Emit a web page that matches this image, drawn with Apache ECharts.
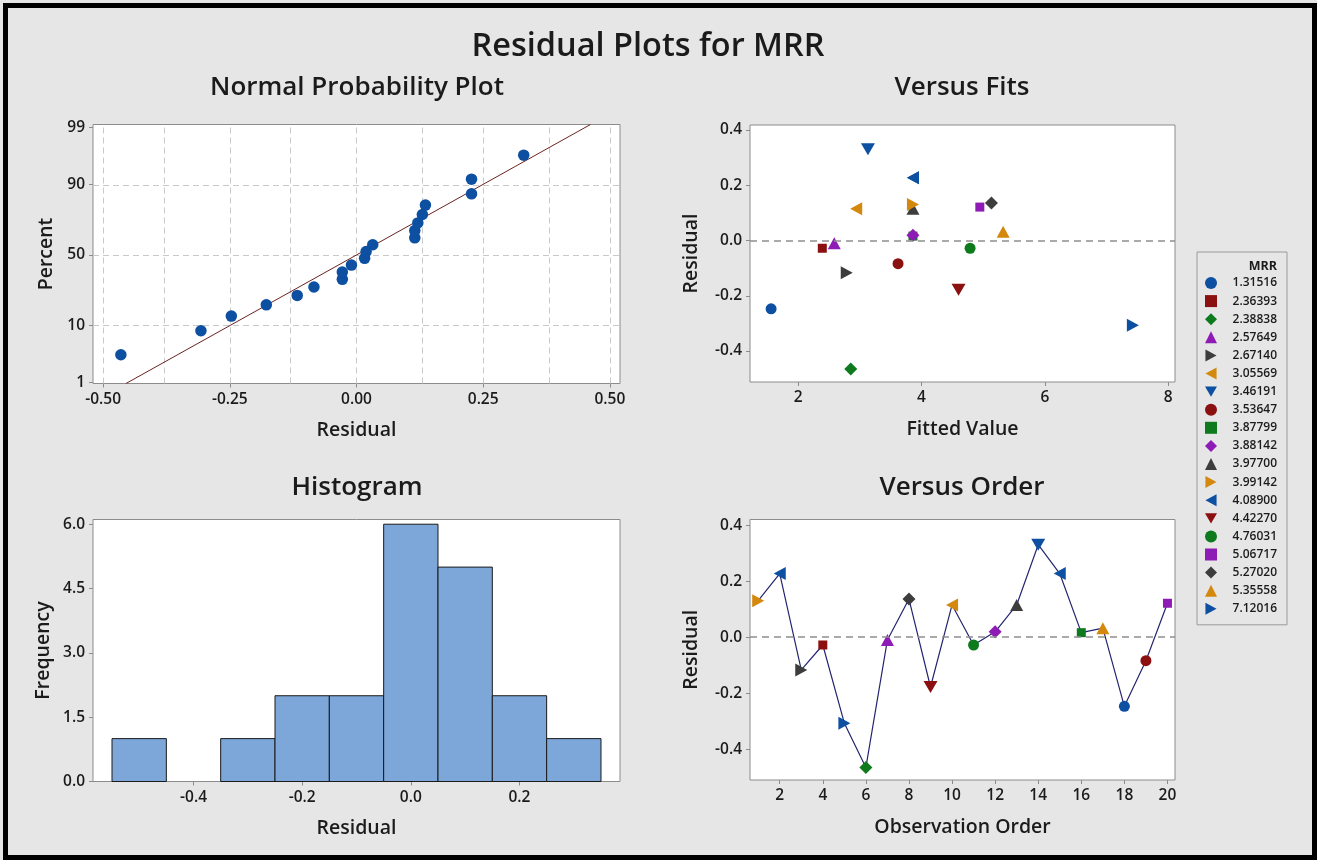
<!DOCTYPE html>
<html>
<head>
<meta charset="utf-8">
<title>Residual Plots for MRR</title>
<script src="https://cdn.jsdelivr.net/npm/echarts@6/dist/echarts.min.js"></script>
<style>
  html, body { margin: 0; padding: 0; background: #e6e6e6; }
  #chart { width: 1317px; height: 860px; }
</style>
</head>
<body>
<div id="chart"></div>
<script>
// ---- data ----
const observation = [1, 2, 3, 4, 5, 6, 7, 8, 9, 10, 11, 12, 13, 14, 15, 16, 17, 18, 19, 20];
const residuals = [0.130, 0.227, -0.117, -0.028, -0.307, -0.465, -0.010, 0.136, -0.178, 0.115,
                   -0.028, 0.019, 0.115, 0.330, 0.227, 0.016, 0.032, -0.247, -0.084, 0.121];
const fittedValues = [3.862, 3.862, 2.788, 2.392, 7.427, 2.853, 2.586, 5.134, 4.601, 2.941,
                      4.788, 3.862, 3.862, 3.132, 3.862, 3.862, 5.324, 1.562, 3.620, 4.946];
const mrrOfObservation = ['3.99142', '4.08900', '2.67140', '2.36393', '7.12016', '2.38838', '2.57649',
                          '5.27020', '4.42270', '3.05569', '4.76031', '3.88142', '3.97700', '3.46191',
                          '4.08900', '3.87799', '5.35558', '1.31516', '3.53647', '5.06717'];
const mrrGroups = ['1.31516', '2.36393', '2.38838', '2.57649', '2.67140', '3.05569', '3.46191',
                   '3.53647', '3.87799', '3.88142', '3.97700', '3.99142', '4.08900', '4.42270',
                   '4.76031', '5.06717', '5.27020', '5.35558', '7.12016'];
// median-rank plotting positions (%) for the ordered residuals
const probPercent = [3.43, 8.33, 13.24, 18.14, 23.04, 27.94, 32.84, 37.75, 42.65, 47.55,
                     52.45, 57.35, 62.25, 67.16, 72.06, 76.96, 81.86, 86.76, 91.67, 96.57];
const fitMean = 0.0;
const fitStDev = 0.194;
const histBinCenters = [-0.5, -0.4, -0.3, -0.2, -0.1, 0.0, 0.1, 0.2, 0.3];
const histCounts = [1, 0, 1, 2, 2, 6, 5, 2, 1];
const histBinWidth = 0.1;

// ---- tick labels ----
const percentTicks = [1, 10, 50, 90, 99];
const percentGridTicks = [10, 50, 90];
const normalXTicks = [-0.5, -0.25, 0, 0.25, 0.5];
const normalXGrid = [-0.5, -0.375, -0.25, -0.125, 0, 0.125, 0.25, 0.375, 0.5];
const residualTicks = [-0.4, -0.2, 0, 0.2, 0.4];
const fitsTicks = [2, 4, 6, 8];
const histXTicks = [-0.4, -0.2, 0, 0.2];
const freqTicks = [0, 1.5, 3, 4.5, 6];
const orderTicks = [2, 4, 6, 8, 10, 12, 14, 16, 18, 20];

// ---- styling ----
const FONT = '"Open Sans", "Noto Sans", sans-serif';
const INK = '#1b1b1b';
const FRAME = '#8c8c8c';
const markerColors = ['#0d4fa0', '#8b1010', '#0e7a1e', '#8e1bb5', '#3d3d3d', '#d4880d'];
const markerShapes = [
  { symbol: 'circle', size: 11 },
  { symbol: 'rect', size: 9 },
  { symbol: 'diamond', size: 13 },
  { symbol: 'triangle', size: [13, 12] },
  { symbol: 'path://M0,0L12,6.5L0,13Z', size: [12, 13] },
  { symbol: 'path://M12,0L0,6.5L12,13Z', size: [12, 13] },
  { symbol: 'path://M0,0L14,0L7,12Z', size: [14, 12] }
];

// inverse standard normal CDF (Acklam), used for the probability axis
function normInv(p) {
  const a = [-3.969683028665376e+01, 2.209460984245205e+02, -2.759285104469687e+02,
             1.383577518672690e+02, -3.066479806614716e+01, 2.506628277459239e+00];
  const b = [-5.447609879822406e+01, 1.615858368580409e+02, -1.556989798598866e+02,
             6.680131188771972e+01, -1.328068155288572e+01];
  const c = [-7.784894002430293e-03, -3.223964580411365e-01, -2.400758277161838e+00,
             -2.549732539343734e+00, 4.374664141464968e+00, 2.938163982698783e+00];
  const d = [7.784695709041462e-03, 3.224671290700398e-01, 2.445134137142996e+00,
             3.754408661907416e+00];
  const pl = 0.02425, ph = 1 - pl;
  let q, r;
  if (p < pl) {
    q = Math.sqrt(-2 * Math.log(p));
    return (((((c[0] * q + c[1]) * q + c[2]) * q + c[3]) * q + c[4]) * q + c[5]) /
           ((((d[0] * q + d[1]) * q + d[2]) * q + d[3]) * q + 1);
  }
  if (p <= ph) {
    q = p - 0.5; r = q * q;
    return (((((a[0] * r + a[1]) * r + a[2]) * r + a[3]) * r + a[4]) * r + a[5]) * q /
           (((((b[0] * r + b[1]) * r + b[2]) * r + b[3]) * r + b[4]) * r + 1);
  }
  q = Math.sqrt(-2 * Math.log(1 - p));
  return -(((((c[0] * q + c[1]) * q + c[2]) * q + c[3]) * q + c[4]) * q + c[5]) /
          ((((d[0] * q + d[1]) * q + d[2]) * q + d[3]) * q + 1);
}

const probZMin = -2.345;
const probZMax = 2.38;
const percentZTicks = percentTicks.map(p => normInv(p / 100));

function valueAxis(o) {
  return {
    type: 'value', gridIndex: o.grid, min: o.min, max: o.max,
    name: o.name, nameLocation: 'middle', nameGap: o.nameGap,
    nameTextStyle: { fontSize: 19.5, fontWeight: 600, color: INK, fontFamily: FONT },
    axisLine: { show: false, onZero: false },
    axisTick: { show: true, customValues: o.ticks, length: 4, lineStyle: { color: FRAME } },
    axisLabel: { customValues: o.ticks, formatter: o.fmt, fontSize: 15.5, fontWeight: 600,
                 color: INK, fontFamily: FONT, margin: o.margin || 8 },
    splitLine: { show: false }
  };
}

const gridBox = { show: true, backgroundColor: '#ffffff', borderColor: FRAME, borderWidth: 1, containLabel: false };

const zeroLine = {
  silent: true, symbol: ['none', 'none'], label: { show: false },
  lineStyle: { color: '#8f8f8f', width: 1.6, type: [7, 5] },
  emphasis: { disabled: true }, animation: false,
  data: [{ yAxis: 0 }]
};

// normal probability plot
const sortedResiduals = residuals.slice().sort((x, y) => x - y);
const probPoints = sortedResiduals.map((r, i) => [r, normInv(probPercent[i] / 100)]);
const fitLine = [[fitMean + fitStDev * probZMin, probZMin], [fitMean + fitStDev * probZMax, probZMax]];

const series = [
  {
    type: 'line', xAxisIndex: 0, yAxisIndex: 0, data: fitLine, showSymbol: false, z: 2,
    lineStyle: { color: '#6b2222', width: 1 }, silent: true,
    markLine: {
      silent: true, z: 1, symbol: ['none', 'none'], label: { show: false },
      lineStyle: { color: '#c9c9c9', width: 1, type: [6, 4] }, emphasis: { disabled: true },
      data: normalXGrid.map(v => ({ xAxis: v }))
        .concat(percentGridTicks.map(p => ({ yAxis: normInv(p / 100) })))
    }
  },
  {
    type: 'scatter', xAxisIndex: 0, yAxisIndex: 0, data: probPoints, z: 3,
    symbol: 'circle', symbolSize: 11.5, itemStyle: { color: markerColors[0], opacity: 1 }
  },
  {
    type: 'custom', xAxisIndex: 2, yAxisIndex: 2,
    data: histBinCenters.map((c, i) => [c, histCounts[i]]),
    encode: { x: 0, y: 1 },
    renderItem: function (params, api) {
      const c = api.value(0), n = api.value(1);
      if (!n) return null;
      const p0 = api.coord([c - histBinWidth / 2, n]);
      const p1 = api.coord([c + histBinWidth / 2, 0]);
      return {
        type: 'rect',
        shape: { x: p0[0], y: p0[1], width: p1[0] - p0[0], height: p1[1] - p0[1] },
        style: { fill: '#7da7d9', stroke: '#1a1a1a', lineWidth: 1 }
      };
    }
  }
];

// versus fits, one series per MRR value
mrrGroups.forEach((g, gi) => {
  const shape = markerShapes[gi % markerShapes.length];
  const pts = [];
  observation.forEach((o, i) => { if (mrrOfObservation[i] === g) pts.push([fittedValues[i], residuals[i]]); });
  const s = {
    type: 'scatter', name: g, xAxisIndex: 1, yAxisIndex: 1, data: pts, z: 3,
    symbol: shape.symbol, symbolSize: shape.size,
    itemStyle: { color: markerColors[gi % markerColors.length], opacity: 1 }
  };
  if (gi === 0) s.markLine = zeroLine;
  series.push(s);
});

// versus order: connecting line then markers
series.push({
  type: 'line', name: 'order', xAxisIndex: 3, yAxisIndex: 3, z: 2,
  data: observation.map((o, i) => [o, residuals[i]]), showSymbol: false,
  lineStyle: { color: '#25256f', width: 1.2 }, silent: true,
  markLine: zeroLine
});
mrrGroups.forEach((g, gi) => {
  const shape = markerShapes[gi % markerShapes.length];
  const pts = [];
  observation.forEach((o, i) => { if (mrrOfObservation[i] === g) pts.push([o, residuals[i]]); });
  series.push({
    type: 'scatter', name: g, xAxisIndex: 3, yAxisIndex: 3, data: pts, z: 3,
    symbol: shape.symbol, symbolSize: shape.size,
    itemStyle: { color: markerColors[gi % markerColors.length], opacity: 1 }
  });
});

const titleStyle = (size, weight) => ({ fontSize: size, fontWeight: weight || 600, color: INK, fontFamily: FONT });

const option = {
  backgroundColor: '#e6e6e6',
  animation: false,
  title: [
    { text: 'Residual Plots for MRR', left: 648, top: 30, padding: 0, textAlign: 'center', textStyle: titleStyle(32.5) },
    { text: 'Normal Probability Plot', left: 357, top: 75, padding: 0, textAlign: 'center', textStyle: titleStyle(26) },
    { text: 'Versus Fits', left: 962, top: 75, padding: 0, textAlign: 'center', textStyle: titleStyle(26) },
    { text: 'Histogram', left: 357, top: 475, padding: 0, textAlign: 'center', textStyle: titleStyle(26) },
    { text: 'Versus Order', left: 962, top: 475, padding: 0, textAlign: 'center', textStyle: titleStyle(26) },
    { text: 'MRR', left: 1277, top: 260, padding: 0, textAlign: 'right', textStyle: titleStyle(12.5, 700) }
  ],
  legend: {
    orient: 'vertical', left: 1197, top: 252, padding: [25, 10, 10, 8],
    itemGap: 6.1, itemWidth: 12, itemHeight: 12, selectedMode: false,
    borderColor: '#9a9a9a', borderWidth: 1, data: mrrGroups,
    formatter: n => '{v|' + n + '}',
    textStyle: { rich: { v: { width: 55, align: 'right', fontSize: 12, fontWeight: 600, color: INK, fontFamily: FONT } } }
  },
  grid: [
    Object.assign({ left: 93, top: 124.5, width: 527, height: 259 }, gridBox),
    Object.assign({ left: 750, top: 125, width: 425, height: 257 }, gridBox),
    Object.assign({ left: 93, top: 519.5, width: 527, height: 262 }, gridBox),
    Object.assign({ left: 750, top: 519.5, width: 425, height: 260.5 }, gridBox)
  ],
  xAxis: [
    valueAxis({ grid: 0, min: -0.52, max: 0.52, ticks: normalXTicks, fmt: v => v.toFixed(2), name: 'Residual', nameGap: 37 }),
    valueAxis({ grid: 1, min: 1.22, max: 8.11, ticks: fitsTicks, fmt: v => String(v), name: 'Fitted Value', nameGap: 37 }),
    valueAxis({ grid: 2, min: -0.585, max: 0.385, ticks: histXTicks, fmt: v => v.toFixed(1), name: 'Residual', nameGap: 37 }),
    valueAxis({ grid: 3, min: 0.62, max: 20.35, ticks: orderTicks, fmt: v => String(v), name: 'Observation Order', nameGap: 37 })
  ],
  yAxis: [
    valueAxis({ grid: 0, min: probZMin, max: probZMax, ticks: percentZTicks,
      fmt: v => { let best = 0; percentZTicks.forEach((z, i) => { if (Math.abs(z - v) < Math.abs(percentZTicks[best] - v)) best = i; }); return String(percentTicks[best]); },
      name: 'Percent', nameGap: 37 }),
    valueAxis({ grid: 1, min: -0.512, max: 0.418, ticks: residualTicks, fmt: v => v.toFixed(1), name: 'Residual', nameGap: 49 }),
    valueAxis({ grid: 2, min: 0, max: 6.11, ticks: freqTicks, fmt: v => v.toFixed(1), name: 'Frequency', nameGap: 40 }),
    valueAxis({ grid: 3, min: -0.51, max: 0.42, ticks: residualTicks, fmt: v => v.toFixed(1), name: 'Residual', nameGap: 49 })
  ],
  graphic: [
    { type: 'rect', silent: true, z: 100, shape: { x: 5.5, y: 5.5, width: 1309, height: 852 },
      style: { fill: 'none', stroke: '#000000', lineWidth: 5 } }
  ],
  series: series
};

const chart = echarts.init(document.getElementById('chart'), null, { renderer: 'canvas' });
chart.setOption(option);
</script>
</body>
</html>
